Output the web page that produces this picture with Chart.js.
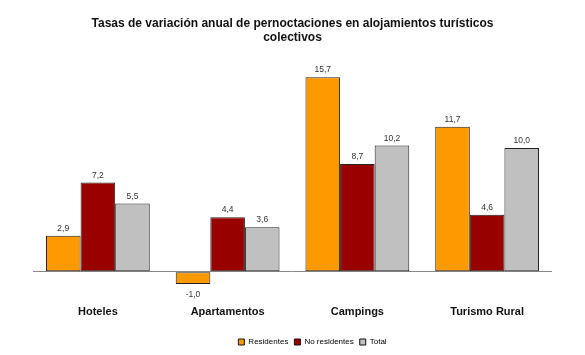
<!DOCTYPE html>
<html>
<head>
<meta charset="utf-8">
<script src="https://cdn.jsdelivr.net/npm/chart.js@4"></script>
<style>
  html, body { margin: 0; padding: 0; background: #fff; }
  #wrap { width: 585px; height: 355px; }
</style>
</head>
<body>
<div id="wrap"><canvas id="c" width="585" height="355"></canvas></div>
<script>
const categories = ['Hoteles', 'Apartamentos', 'Campings', 'Turismo Rural'];
const residentes = [2.9, -1.0, 15.7, 11.7];
const noResidentes = [7.2, 4.4, 8.7, 4.6];
const total = [5.5, 3.6, 10.2, 10.0];
const titleLines = ['Tasas de variación anual de pernoctaciones en alojamientos turísticos', 'colectivos'];

const FONT = "'Liberation Sans', Arial, sans-serif";

const valueLabels = {
  id: 'valueLabels',
  afterDatasetsDraw(chart) {
    const ctx = chart.ctx;
    ctx.save();
    ctx.font = '8.5px ' + FONT;
    ctx.fillStyle = '#333';
    ctx.textAlign = 'center';
    chart.data.datasets.forEach((ds, di) => {
      const meta = chart.getDatasetMeta(di);
      meta.data.forEach((el, i) => {
        const v = ds.data[i];
        const txt = v.toFixed(1).replace('.', ',');
        if (v >= 0) {
          ctx.textBaseline = 'bottom';
          ctx.fillText(txt, el.x, el.y - 3);
        } else {
          ctx.textBaseline = 'top';
          ctx.fillText(txt, el.x, el.y + 6);
        }
      });
    });
    ctx.restore();
  }
};

const shiftLegend = {
  id: 'shiftLegend',
  afterUpdate(chart) {
    const lg = chart.legend;
    if (lg) { lg.left += 20; lg.right += 20; lg.top += 6.5; lg.bottom += 6.5; }
  }
};

new Chart(document.getElementById('c'), {
  type: 'bar',
  data: {
    labels: categories,
    datasets: [
      { label: 'Residentes', data: residentes, backgroundColor: '#FF9900' },
      { label: 'No residentes', data: noResidentes, backgroundColor: '#990000' },
      { label: 'Total', data: total, backgroundColor: '#C0C0C0' }
    ].map(d => Object.assign(d, { borderColor: '#222', borderWidth: 1, borderSkipped: false, categoryPercentage: 0.8, barPercentage: 1.0 }))
  },
  options: {
    responsive: false,
    animation: false,
    devicePixelRatio: 1,
    layout: { padding: { left: 33, right: 33, top: 0, bottom: 5.5 } },
    plugins: {
      title: {
        display: true,
        text: titleLines,
        color: '#111',
        font: { family: FONT, size: 12, weight: 'bold', lineHeight: 1.15 },
        padding: { top: 17, bottom: 29 }
      },
      legend: {
        position: 'bottom',
        labels: {
          boxWidth: 6, boxHeight: 6, padding: 6,
          color: '#222',
          font: { family: FONT, size: 8 },
          generateLabels(chart) {
            return chart.data.datasets.map((ds, i) => ({
              text: ds.label, fillStyle: ds.backgroundColor, strokeStyle: '#111', lineWidth: 1, datasetIndex: i
            }));
          }
        }
      },
      tooltip: { enabled: false }
    },
    scales: {
      x: {
        grid: { display: false },
        border: { display: false },
        ticks: { color: '#111', font: { family: FONT, size: 11, weight: 'bold' }, padding: 7 }
      },
      y: {
        min: -1.5, max: 16,
        ticks: { display: false, stepSize: 1 },
        border: { display: false },
        grid: {
          drawTicks: false,
          color: ctx => ctx.tick && ctx.tick.value === 0 ? '#888' : 'rgba(0,0,0,0)',
          lineWidth: 1
        }
      }
    }
  },
  plugins: [valueLabels, shiftLegend]
});
</script>
</body>
</html>
